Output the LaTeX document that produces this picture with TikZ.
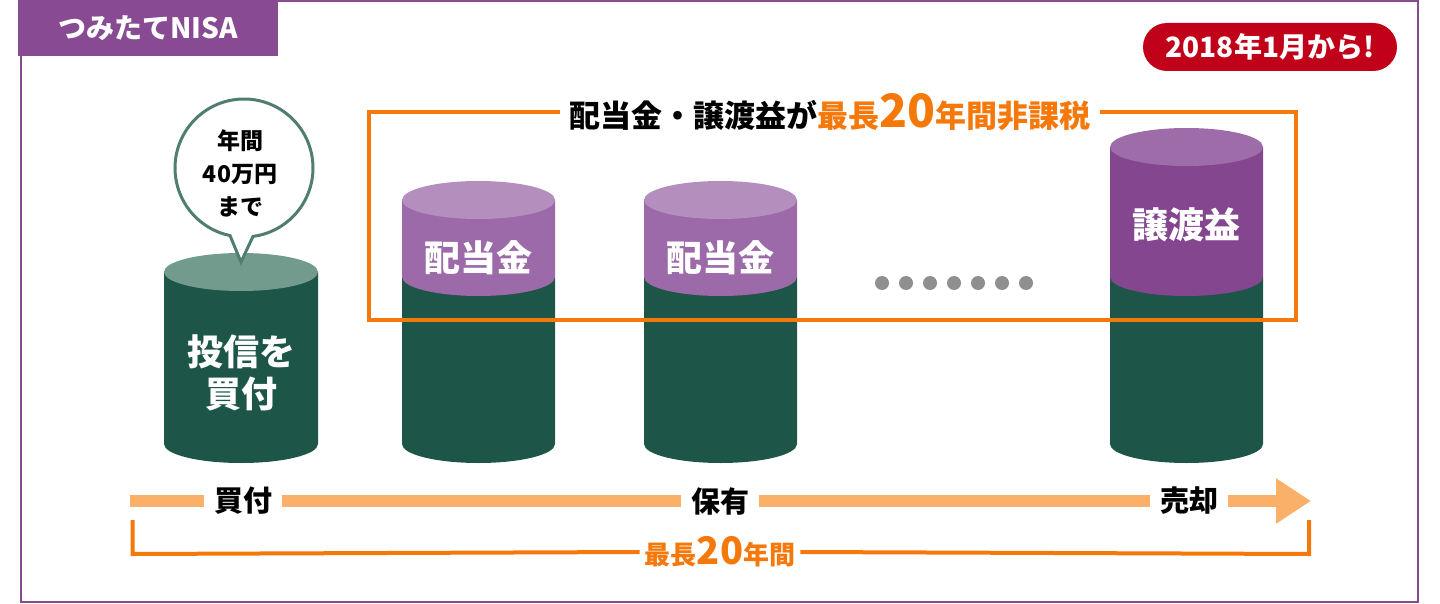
\documentclass[tikz,border=0pt]{standalone}
\usepackage{fontspec}
\setmainfont{Noto Sans CJK JP}
\usetikzlibrary{arrows.meta, positioning}

\definecolor{nisapurple}{HTML}{874A93}
\definecolor{nisared}{HTML}{C10019}
\definecolor{taxorange}{HTML}{F5780A}
\definecolor{barorange}{HTML}{FBB06A}
\definecolor{bodygreen}{HTML}{1D5648}
\definecolor{topgreen}{HTML}{729A8D}
\definecolor{bubblegreen}{HTML}{4F7D71}
\definecolor{bandlilac}{HTML}{9C6AA8}
\definecolor{toplilac}{HTML}{B48FBE}
\definecolor{bandplum}{HTML}{84468F}
\definecolor{topplum}{HTML}{9E6DA9}
\definecolor{dotgray}{HTML}{8F8F8F}

\begin{document}
\begin{tikzpicture}[
            x = 1pt, y = -1pt, % pixel units, y downwards
            > = {Triangle[length=35pt, width=43pt]}, % arrow head style
            line join = miter
        ]

        \tikzstyle{every node}=[
            font = \bfseries,
            inner sep = 0pt
        ]
        \tikzstyle{cyl label}=[text = white, font = \bfseries\fontsize{36}{42}\selectfont, align = center]
        \tikzstyle{bar label}=[fill = white, inner xsep = 10pt, inner ysep = 2pt, font = \bfseries\fontsize{29}{29}\selectfont]
        \tikzstyle{bracket}=[draw = taxorange, line width = 4pt]
        \tikzstyle{bar}=[draw = barorange, line width = 12pt]

        \useasboundingbox (0,0) rectangle (1440,604);

        % frame, tab and start date
        \draw[nisapurple, line width = 2pt] (21,1) rectangle (1418,602);
        \node[fill = nisapurple, text = white, minimum width = 260pt, minimum height = 56pt,
              font = \bfseries\fontsize{28}{28}\selectfont] (tab) at (148,28) {つみたてNISA};
        \node[fill = nisared, text = white, rounded corners = 24pt, minimum width = 254pt, minimum height = 48pt,
              font = \bfseries\fontsize{28}{28}\selectfont] (start) at (1270,47) {2018年1月から!};

        % cylinder 1
        \fill[bodygreen] (164,272) -- (164,444) arc[start angle = 180, end angle = 360, x radius = 77pt, y radius = 19pt] -- (318,272) -- cycle;
        \fill[topgreen] (241,272) ellipse[x radius = 77pt, y radius = 19pt];
        \node[cyl label] (fund) at (241,373) {投信を\\買付};

        % cylinders 2 and 3
        \foreach \cx/\name in {478.5/div1, 720.5/div2} {
            \fill[bodygreen] (\cx-76.5,277) -- (\cx-76.5,444) arc[start angle = 180, end angle = 360, x radius = 76.5pt, y radius = 19pt] -- (\cx+76.5,277) -- cycle;
            \fill[bandlilac] (\cx-76.5,200) -- (\cx-76.5,277) arc[start angle = 180, end angle = 360, x radius = 76.5pt, y radius = 19pt] -- (\cx+76.5,200) -- cycle;
            \fill[toplilac] (\cx,200) ellipse[x radius = 76.5pt, y radius = 19pt];
            \node[cyl label] (\name) at (\cx,258) {配当金};
        }

        % cylinder 4
        \fill[bodygreen] (1110,277) -- (1110,444) arc[start angle = 180, end angle = 360, x radius = 76.5pt, y radius = 19pt] -- (1263,277) -- cycle;
        \fill[bandplum] (1110,147) -- (1110,277) arc[start angle = 180, end angle = 360, x radius = 76.5pt, y radius = 19pt] -- (1263,147) -- cycle;
        \fill[topplum] (1186.5,147) ellipse[x radius = 76.5pt, y radius = 19pt];
        \node[cyl label] (gain) at (1186.5,225) {譲渡益};

        % dots
        \foreach \i in {0,...,6}
            \fill[dotgray] (882+24*\i,283) circle[radius = 7pt];

        % speech bubble
        \draw[bubblegreen, fill = white, line width = 3pt] (244,168) ++(-82.5:69pt)
            arc[start angle = -82.5, end angle = 258.3, radius = 69pt] -- (241,262) -- cycle;
        \node[align = center, font = \bfseries\fontsize{23}{33}\selectfont] (limit) at (240,173) {年間\\40万円\\まで};

        % tax free bracket
        \node[fill = white, inner xsep = 9pt, font = \bfseries\fontsize{31}{31}\selectfont] (taxfree) at (830,112)
            {配当金・譲渡益が\textcolor{taxorange}{最長{\fontsize{46}{46}\selectfont 20}年間非課税}};
        \coordinate (box nw) at (369,112);
        \coordinate (box sw) at (369,320);
        \coordinate (box se) at (1296,320);
        \coordinate (box ne) at (1296,112);
        \draw[bracket] (taxfree.west) -- (box nw) -- (box sw) -- (box se) -- (box ne) -- (taxfree.east);

        % time line
        \coordinate (bar start) at (130,501);
        \coordinate (bar end)   at (1311,501);
        \node[bar label] (buy)  at (243,501) {買付};
        \node[bar label] (hold) at (720,501) {保有};
        \node[bar label] (sell) at (1189,501) {売却};
        \path[bar] (bar start) edge (buy);
        \path[bar] (buy)       edge (hold);
        \path[bar] (hold)      edge (sell);
        \draw[bar, ->] (sell) -- (bar end);

        % twenty years
        \node[text = taxorange, inner xsep = 5pt, font = \bfseries\fontsize{26}{26}\selectfont] (term) at (720,552)
            {最長{\fontsize{38}{38}\selectfont 20}年間};
        \coordinate (term nw) at (132.5,520);
        \coordinate (term sw) at (132.5,554);
        \coordinate (term se) at (1309,554);
        \coordinate (term ne) at (1309,520);
        \draw[bracket] (term.west) -- (term sw) -- (term nw);
        \draw[bracket] (term.east) -- (term se) -- (term ne);

    \end{tikzpicture}
\end{document}
